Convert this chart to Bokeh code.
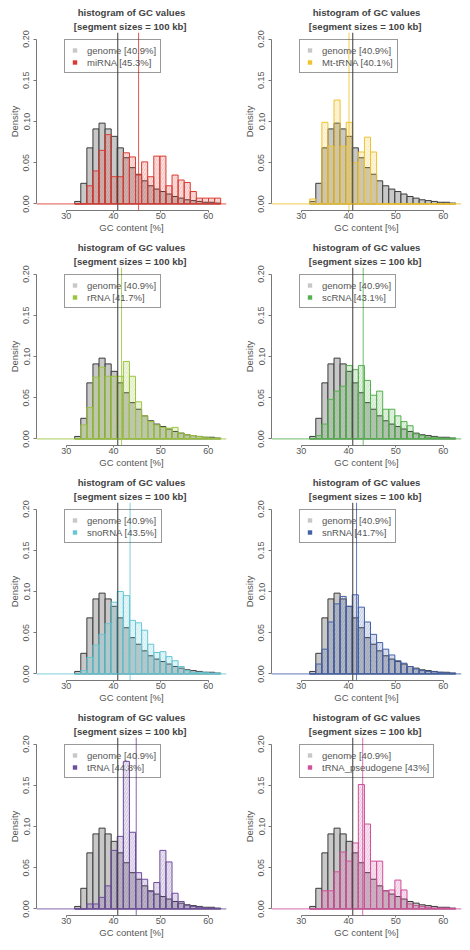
import numpy as np
from bokeh.plotting import figure
from bokeh.models import (Range1d, FixedTicker, PrintfTickFormatter, Span, Legend,
                          LegendItem, Title, ColumnDataSource)
from bokeh.layouts import column, row
from bokeh.embed import file_html
from bokeh.resources import INLINE

# ---------------- data ----------------
BIN_START = 31.8          # first histogram break (GC %)
BIN_WIDTH = 1.285         # histogram bin width (GC %)
N_BINS = 24

GENOME_MEAN = 40.9
GENOME = [0.003, 0.025, 0.068, 0.091, 0.098, 0.091, 0.082, 0.068, 0.056, 0.044, 0.036, 0.028,
          0.022, 0.018, 0.015, 0.012, 0.009, 0.007, 0.005, 0.004, 0.003, 0.002, 0.002, 0.001]

MIRNA = [0.0, 0.0, 0.022, 0.040, 0.065, 0.084, 0.033, 0.033, 0.062, 0.057, 0.035, 0.051,
         0.033, 0.058, 0.058, 0.022, 0.035, 0.029, 0.026, 0.015, 0.007, 0.007, 0.007, 0.007]
MT_TRNA = [0.006, 0.0, 0.099, 0.070, 0.126, 0.070, 0.099, 0.050, 0.063, 0.081, 0.063, 0.0,
           0.0, 0.0, 0.0, 0.0, 0.0, 0.0, 0.0, 0.0, 0.0, 0.0, 0.0, 0.0]
RRNA = [0.0, 0.017, 0.038, 0.075, 0.087, 0.076, 0.076, 0.076, 0.094, 0.076, 0.045, 0.028,
        0.021, 0.017, 0.014, 0.013, 0.014, 0.007, 0.005, 0.004, 0.003, 0.002, 0.001, 0.001]
SCRNA = [0.0, 0.004, 0.018, 0.048, 0.058, 0.064, 0.089, 0.084, 0.089, 0.071, 0.053, 0.058,
         0.036, 0.036, 0.028, 0.021, 0.016, 0.006, 0.004, 0.002, 0.002, 0.001, 0.001, 0.001]
SNORNA = [0.0, 0.004, 0.020, 0.035, 0.048, 0.061, 0.087, 0.100, 0.095, 0.065, 0.062, 0.053,
          0.036, 0.026, 0.027, 0.021, 0.016, 0.009, 0.004, 0.002, 0.002, 0.002, 0.001, 0.001]
SNRNA = [0.0, 0.012, 0.030, 0.063, 0.085, 0.094, 0.082, 0.096, 0.081, 0.063, 0.048, 0.038,
         0.030, 0.023, 0.016, 0.013, 0.009, 0.006, 0.004, 0.003, 0.0025, 0.002, 0.001, 0.001]
TRNA = [0.0, 0.0, 0.006, 0.006, 0.014, 0.028, 0.071, 0.088, 0.179, 0.093, 0.044, 0.036,
        0.021, 0.032, 0.071, 0.057, 0.019, 0.009, 0.0045, 0.003, 0.002, 0.001, 0.001, 0.0005]
TRNA_PSEUDO = [0.0, 0.0, 0.022, 0.022, 0.045, 0.069, 0.058, 0.080, 0.151, 0.103, 0.058, 0.058,
               0.022, 0.023, 0.035, 0.023, 0.006, 0.004, 0.003, 0.002, 0.001, 0.001, 0.001, 0.0005]

CLASS_NAMES = ["miRNA", "Mt-tRNA", "rRNA", "scRNA", "snoRNA", "snRNA", "tRNA", "tRNA_pseudogene"]
CLASS_MEANS = [45.3, 40.1, 41.7, 43.1, 43.5, 41.7, 44.8, 43.0]
CLASS_MEAN_LABELS = ["45.3", "40.1", "41.7", "43.1", "43.5", "41.7", "44.8", "43"]
CLASS_DENSITIES = [MIRNA, MT_TRNA, RRNA, SCRNA, SNORNA, SNRNA, TRNA, TRNA_PSEUDO]
CLASS_COLORS = ["#DC3A32", "#EFC22F", "#9BC53D", "#55B04F", "#66C7D4", "#4461A8", "#6E4C9E", "#D1509B"]

X_TICKS = [30, 40, 50, 60]
Y_TICKS = [0.0, 0.05, 0.10, 0.15, 0.20]
XLIM = (23.73, 63.87)
YLIM = (-0.008, 0.208)

FONT = "Liberation Sans"
GREY_TXT = "#555555"
AXIS_COL = "#777777"
GENOME_FILL = "#C8C8C8"
GENOME_LINE = "#3A3A3A"

edges = BIN_START + BIN_WIDTH * np.arange(N_BINS + 1)


def make_panel(name, dens, mean, mean_lbl, color):
    p = figure(width=235, height=235, output_backend="svg",
               toolbar_location=None, tools="",
               x_range=Range1d(*XLIM), y_range=Range1d(*YLIM),
               min_border_left=36, min_border_right=9,
               min_border_top=32, min_border_bottom=24)
    p.outline_line_color = None
    p.grid.visible = False

    # titles (the added one sits next to the frame)
    p.title.text = "histogram of GC values"
    p.title.align = "center"
    p.title.text_font = FONT
    p.title.text_font_size = "9.6px"
    p.title.text_font_style = "bold"
    p.title.standoff = 0
    p.add_layout(Title(text="[segment sizes =  100 kb]", align="center", text_font=FONT,
                       text_font_size="9.6px", text_font_style="bold", standoff=2), "above")

    # histograms
    gsrc = ColumnDataSource(dict(left=edges[:-1], right=edges[1:], top=GENOME))
    p.quad(left="left", right="right", top="top", bottom=0, source=gsrc,
           fill_color=GENOME_FILL, line_color=GENOME_LINE, line_width=1)
    csrc = ColumnDataSource(dict(left=edges[:-1], right=edges[1:], top=dens))
    p.quad(left="left", right="right", top="top", bottom=0, source=csrc,
           fill_color=color, fill_alpha=0.1, line_color=color, line_width=1,
           hatch_pattern="/", hatch_color=color, hatch_scale=4.5, hatch_weight=0.5,
           hatch_alpha=0.6)

    # reference lines
    p.add_layout(Span(location=GENOME_MEAN, dimension="height", line_color=GENOME_LINE, line_width=1))
    p.add_layout(Span(location=mean, dimension="height", line_color=color, line_width=1, line_alpha=0.85))
    p.add_layout(Span(location=0, dimension="width", line_color=color, line_width=1, line_alpha=0.85))

    # legend (swatches only; the NaN point is never drawn)
    esrc = ColumnDataSource(dict(x=[np.nan], y=[np.nan]))
    rg = p.scatter(x="x", y="y", source=esrc, marker="square", fill_color=GENOME_FILL, line_color=None)
    rc = p.scatter(x="x", y="y", source=esrc, marker="square", fill_color=color, line_color=None)
    leg = Legend(items=[LegendItem(label="genome [%s%%]" % GENOME_MEAN, renderers=[rg]),
                        LegendItem(label="%s [%s%%]" % (name, mean_lbl), renderers=[rc])],
                 location=(28, 137), label_text_font=FONT, label_text_font_size="9.5px",
                 label_text_color=GREY_TXT, label_height=12, glyph_height=12, glyph_width=11,
                 label_standoff=7, padding=4, spacing=0, margin=0,
                 border_line_color="#333333", border_line_width=1,
                 background_fill_alpha=0)
    leg.level = "underlay"
    p.add_layout(leg)

    # axes
    xa = p.xaxis[0]
    xa.ticker = FixedTicker(ticks=X_TICKS)
    xa.bounds = (X_TICKS[0], X_TICKS[-1])
    xa.axis_label = "GC content [%]"
    ya = p.yaxis[0]
    ya.ticker = FixedTicker(ticks=Y_TICKS)
    ya.bounds = (Y_TICKS[0], Y_TICKS[-1])
    ya.formatter = PrintfTickFormatter(format="%.2f")
    ya.major_label_orientation = "vertical"
    ya.axis_label = "Density"
    for ax in (xa, ya):
        ax.axis_line_color = AXIS_COL
        ax.major_tick_line_color = AXIS_COL
        ax.minor_tick_line_color = None
        ax.minor_tick_out = 0
        ax.minor_tick_in = 0
        ax.major_tick_in = 0
        ax.major_label_text_font = FONT
        ax.major_label_text_font_size = "9px"
        ax.major_label_text_color = GREY_TXT
        ax.axis_label_text_font = FONT
        ax.axis_label_text_font_size = "9.5px"
        ax.axis_label_text_font_style = "normal"
        ax.axis_label_text_color = GREY_TXT
    xa.major_tick_out = 2
    xa.major_label_standoff = 0
    xa.axis_label_standoff = 0
    ya.major_tick_out = 3
    ya.major_label_standoff = 4
    ya.axis_label_standoff = 1
    return p


panels = [make_panel(nm, d, m, ml, c) for nm, d, m, ml, c in
          zip(CLASS_NAMES, CLASS_DENSITIES, CLASS_MEANS, CLASS_MEAN_LABELS, CLASS_COLORS)]

layout = column(*[row(panels[2 * i], panels[2 * i + 1]) for i in range(4)])

open("out.html", "w").write(file_html(layout, INLINE))
